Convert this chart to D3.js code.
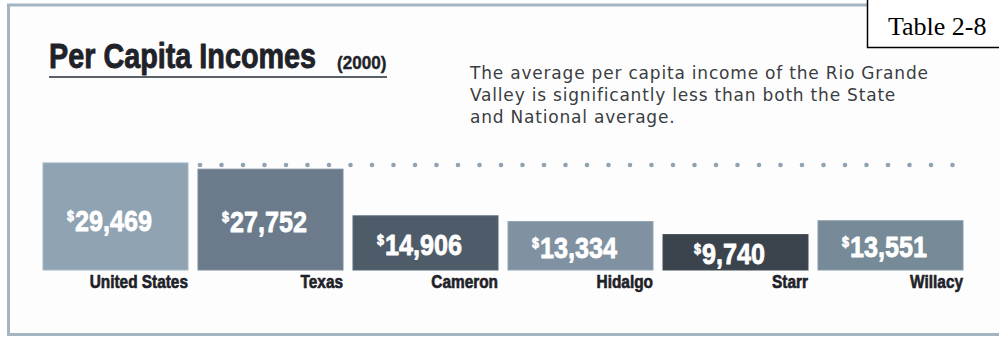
<!DOCTYPE html>
<html>
<head>
<meta charset="utf-8">
<script src="https://cdn.jsdelivr.net/npm/d3@7"></script>
<style>
  html, body { margin: 0; padding: 0; background: #ffffff; }
  svg { display: block; }
  .narrow { font-family: "Liberation Sans", Arial, sans-serif; font-weight: bold; }
</style>
</head>
<body>
<svg id="chart" width="999" height="337"></svg>
<script>
// Per capita income, 2000
const categories = ["United States", "Texas", "Cameron", "Hidalgo", "Starr", "Willacy"];
const incomes = [29469, 27752, 14906, 13334, 9740, 13551];
const barColors = ["#8fa3b2", "#6c7b8b", "#4e5c6a", "#8092a1", "#3b444d", "#778a98"];
const title = "Per Capita Incomes";
const titleYear = "(2000)";
const note = [
  "The average per capita income of the Rio Grande",
  "Valley is significantly less than both the State",
  "and National average."
];
const tableLabel = "Table 2-8";

const svg = d3.select("#chart");
const fmt = d3.format(",");

// condensed heavy text: a bold sans squeezed horizontally around its anchor
function narrowText(parent, x, y, sx, color, weight) {
  return parent.append("g")
    .attr("transform", `translate(${x},${y}) scale(${sx},1)`)
    .append("text").attr("class", "narrow")
    .attr("fill", color).attr("stroke", color)
    .attr("stroke-width", weight).attr("stroke-linejoin", "round");
}

// frame
svg.append("rect")
  .attr("x", 8.5).attr("y", 5).attr("width", 1010).attr("height", 329.5)
  .attr("fill", "#fdfdfd").attr("stroke", "#a3b5c1").attr("stroke-width", 3);

// table tag
svg.append("rect")
  .attr("x", 867.5).attr("y", -2).attr("width", 140).attr("height", 49.5)
  .attr("fill", "#ffffff").attr("stroke", "#000").attr("stroke-width", 1.5);
svg.append("text")
  .attr("x", 888).attr("y", 35)
  .attr("font-family", "Liberation Serif, Times New Roman, serif")
  .attr("font-size", 26).attr("fill", "#000")
  .text(tableLabel);

// title
narrowText(svg, 49, 68, 0.8, "#1f2329", 0.9)
  .attr("font-size", 36).text(title);
narrowText(svg, 337, 69, 0.95, "#1f2329", 0.4)
  .attr("font-size", 18).text(titleYear);
svg.append("line")
  .attr("x1", 49).attr("x2", 387).attr("y1", 77).attr("y2", 77)
  .attr("stroke", "#5a6068").attr("stroke-width", 2.2);

// note
svg.append("g").selectAll("text").data(note).join("text")
  .attr("x", 470).attr("y", (d, i) => 79 + i * 22)
  .attr("font-family", "DejaVu Sans, Verdana, sans-serif")
  .attr("font-size", 17).attr("letter-spacing", 0.8).attr("fill", "#3a3d42")
  .text(d => d);

// scales
const x = d3.scaleBand().domain(categories).range([43, 963]).paddingInner(10 / 155).paddingOuter(0);
const y = d3.scaleLinear().domain([0, 30000]).range([270, 161]);

// dotted reference line at the national level
const dotY = y(incomes[0]) + 2;
svg.append("g").selectAll("circle").data(d3.range(36)).join("circle")
  .attr("cx", i => 200 + i * 21.5).attr("cy", dotY).attr("r", 2.3)
  .attr("fill", "#8fa3b3");

const rows = categories.map((c, i) => ({ name: c, value: incomes[i], color: barColors[i] }));

const bars = svg.append("g");
bars.selectAll("rect").data(rows).join("rect")
  .attr("x", d => x(d.name)).attr("y", d => y(d.value))
  .attr("width", x.bandwidth()).attr("height", d => y(0) - y(d.value))
  .attr("fill", d => d.color)
  .attr("stroke", d => d3.color(d.color).brighter(0.35)).attr("stroke-width", 1);

// value labels
rows.forEach((d, i) => {
  const t = narrowText(bars, x(d.name) + x.bandwidth() / 2 - 6,
      (y(d.value) + y(0)) / 2 + (i === 0 ? 15 : 12), 0.84, "#ffffff", 0.8)
    .attr("text-anchor", "middle");
  t.append("tspan").attr("font-size", 15).attr("dy", -10).text("$");
  t.append("tspan").attr("font-size", 30).attr("dy", 10).attr("dx", 1).text(fmt(d.value));
});

// category labels
rows.forEach(d => {
  narrowText(bars, x(d.name) + x.bandwidth(), 288, 0.88, "#1e2228", 0.6)
    .attr("text-anchor", "end").attr("font-size", 17.5)
    .text(d.name);
});
</script>
</body>
</html>
